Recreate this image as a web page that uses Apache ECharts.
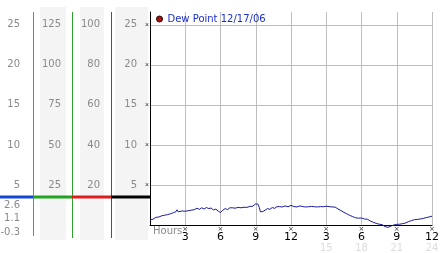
<!DOCTYPE html>
<html>
<head>
<meta charset="utf-8">
<script src="https://cdn.jsdelivr.net/npm/echarts@6/dist/echarts.min.js"></script>
<style>
html,body{margin:0;padding:0;background:#fff;}
#c{width:442px;height:253px;}
</style>
</head>
<body>
<div id="c"></div>
<script>
// ---- data ----
var seriesName = 'Dew Point 12/17/06';
var hours = [0,0.25,0.5,0.75,1,1.25,1.5,1.75,2,2.2,2.3,2.4,2.5,2.75,3,3.25,3.5,3.75,4,4.2,4.4,4.6,4.8,5,5.2,5.4,5.6,5.8,6,6.2,6.4,6.6,6.8,7,7.25,7.5,7.75,8,8.25,8.5,8.75,9,9.2,9.3,9.4,9.6,9.8,10,10.2,10.4,10.6,10.8,11,11.25,11.5,11.75,12,12.25,12.5,12.75,13,13.25,13.5,13.75,14,14.25,14.5,14.75,15,15.25,15.5,15.75,16,16.25,16.5,16.75,17,17.25,17.5,17.75,18,18.25,18.5,18.75,19,19.25,19.5,19.75,20,20.25,20.5,20.75,21,21.25,21.5,21.75,22,22.25,22.5,22.75,23,23.25,23.5,23.75,24];
var dewPoint = [0.62,0.72,0.95,1.0,1.15,1.22,1.3,1.4,1.55,1.65,1.9,1.65,1.7,1.75,1.72,1.78,1.85,1.9,2.1,1.95,2.15,2.0,2.18,2.05,2.12,1.88,1.98,1.75,1.55,1.85,2.05,1.92,2.15,2.15,2.1,2.2,2.15,2.22,2.2,2.32,2.35,2.65,2.58,2.2,1.65,1.68,1.85,2.05,1.95,2.18,2.08,2.28,2.3,2.25,2.38,2.28,2.45,2.3,2.25,2.38,2.3,2.25,2.28,2.32,2.28,2.25,2.3,2.28,2.34,2.3,2.25,2.24,2.0,1.8,1.58,1.4,1.2,1.05,0.9,0.85,0.88,0.75,0.72,0.5,0.34,0.2,0.1,0.05,-0.2,-0.3,-0.14,0.0,0.08,0.1,0.17,0.25,0.42,0.55,0.66,0.7,0.75,0.82,0.92,1.0,1.1];
var xTickLabels = {3:'3',6:'6',9:'9',12:'12',15:'3',18:'6',21:'9',24:'12'};
var xTick24 = {15:'15',18:'18',21:'21',24:'24'};
var statLabels = ['2.6','1.1','-0.3'];
var col1Max = 26.6, col2Max = 133, col3Max = 106.4;

var data = hours.map(function(h,i){return [h, dewPoint[i]];});

var chart = echarts.init(document.getElementById('c'));
var grayLabel = {color:'#8a8a8a', fontSize:10, fontFamily:'DejaVu Sans', margin:0, showMaxLabel:false, showMinLabel:false};
function sideAxis(max, interval, offset){
  return {
    type:'value', min:0, max:max, interval:interval, position:'left', offset:offset,
    axisLine:{show:false}, axisTick:{show:false}, splitLine:{show:false},
    axisLabel: Object.assign({}, grayLabel, {
      formatter:function(v){ return (v>0 && Math.abs(v/interval - Math.round(v/interval))<1e-6) ? String(v) : ''; }
    })
  };
}
var option = {
  animation:false,
  backgroundColor:'#fff',
  grid:{left:150, right:3, top:12, bottom:27, containLabel:false},
  legend:{
    left:156, top:14, padding:0, itemWidth:6, itemHeight:6, itemGap:4, icon:'circle',
    textStyle:{color:'#1c2fc4', fontSize:10, fontFamily:'DejaVu Sans'},
    data:[{name:seriesName, itemStyle:{color:'#a31414', borderColor:'#3a0000', borderWidth:1}}]
  },
  xAxis:{
    type:'value', min:0, max:24, interval:3,
    axisLine:{show:true, onZero:false, lineStyle:{color:'#000', width:1}},
    axisTick:{show:false},
    splitLine:{show:true, lineStyle:{color:'#bdbdbd', width:1}},
    axisLabel:{
      margin:1, showMinLabel:true, showMaxLabel:true,
      formatter:function(v){
        if(!xTickLabels[v]) return '';
        return '{m|×}\n{n|'+xTickLabels[v]+'}\n{s|'+(xTick24[v]||' ')+'}';
      },
      rich:{
        m:{fontSize:7, lineHeight:6, color:'#333', fontFamily:'DejaVu Sans'},
        n:{fontSize:11, lineHeight:11, color:'#000', fontFamily:'DejaVu Sans'},
        s:{fontSize:10, lineHeight:10, color:'#dcdcdc', fontFamily:'DejaVu Sans'}
      }
    }
  },
  yAxis:[
    {
      type:'value', min:0, max:col1Max, interval:5, position:'left',
      axisLine:{show:true, lineStyle:{color:'#000', width:1}},
      axisTick:{show:false},
      splitLine:{show:true, showMaxLine:false, showMinLine:false, lineStyle:{color:'#bdbdbd', width:1}},
      axisLabel:{margin:1, fontSize:7, color:'#333', showMaxLabel:false,
        formatter:function(v){ return (v>0 && v%5===0) ? '×' : ''; }}
    },
    sideAxis(col1Max, 5, 13),
    sideAxis(col3Max, 20, 50),
    sideAxis(col2Max, 25, 89),
    sideAxis(col1Max, 5, 130)
  ],
  graphic:[
    {type:'rect', z:-10, shape:{x:40,y:7,width:26,height:233}, style:{fill:'#f4f4f4'}},
    {type:'rect', z:-10, shape:{x:80,y:7,width:24,height:233}, style:{fill:'#f4f4f4'}},
    {type:'rect', z:-10, shape:{x:115,y:7,width:33,height:233}, style:{fill:'#f4f4f4'}},
    {type:'line', z:5, shape:{x1:33.5,y1:12,x2:33.5,y2:236}, style:{stroke:'#2e9fc4', lineWidth:1}},
    {type:'line', z:5, shape:{x1:72.5,y1:12,x2:72.5,y2:238}, style:{stroke:'#2ea02e', lineWidth:1}},
    {type:'line', z:5, shape:{x1:111.5,y1:12,x2:111.5,y2:238}, style:{stroke:'#b42828', lineWidth:1}},
    {type:'line', z:6, shape:{x1:0,y1:197,x2:33,y2:197}, style:{stroke:'#1446d2', lineWidth:3}},
    {type:'line', z:6, shape:{x1:33,y1:197,x2:72,y2:197}, style:{stroke:'#1fa51f', lineWidth:3}},
    {type:'line', z:6, shape:{x1:72,y1:197,x2:111,y2:197}, style:{stroke:'#e01e1e', lineWidth:3}},
    {type:'line', z:6, shape:{x1:111,y1:197,x2:150,y2:197}, style:{stroke:'#000', lineWidth:3}},
    {type:'text', z:6, x:20, y:205, style:{text:statLabels[0], fill:'#8a8a8a', font:'10px "DejaVu Sans"', align:'right', verticalAlign:'middle'}},
    {type:'text', z:6, x:20, y:218.5, style:{text:statLabels[1], fill:'#8a8a8a', font:'10px "DejaVu Sans"', align:'right', verticalAlign:'middle'}},
    {type:'text', z:6, x:20, y:232, style:{text:statLabels[2], fill:'#8a8a8a', font:'10px "DejaVu Sans"', align:'right', verticalAlign:'middle'}},
    {type:'text', z:6, x:153, y:231.5, style:{text:'Hours', fill:'#8a8a8a', font:'10px "DejaVu Sans"', align:'left', verticalAlign:'middle'}}
  ],
  series:[{
    name:seriesName, type:'line', data:data, showSymbol:false, clip:false,
    lineStyle:{color:'#1a1a9c', width:1}, itemStyle:{color:'#a31414'}
  }]
};
chart.setOption(option);
</script>
</body>
</html>
